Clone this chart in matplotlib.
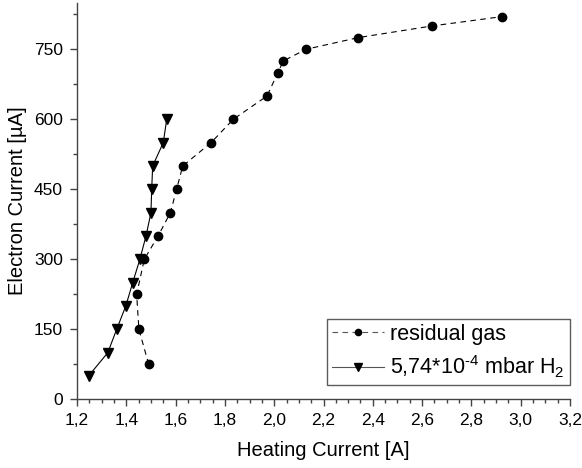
import numpy as np
import matplotlib
matplotlib.use('Agg')
import matplotlib.pyplot as plt
from matplotlib.ticker import MultipleLocator, FixedLocator

plt.rcParams['font.family'] = ['Liberation Sans', 'DejaVu Sans']
plt.rcParams['mathtext.default'] = 'regular'

# residual gas run
res_i = [1.491, 1.451, 1.442, 1.473, 1.529, 1.579, 1.604, 1.629, 1.744,
         1.834, 1.971, 2.015, 2.037, 2.129, 2.341, 2.640, 2.924]
res_e = [75, 150, 225, 300, 350, 400, 450, 500, 550,
         600, 650, 700, 725, 750, 775, 800, 820]

# hydrogen run at 5.74e-4 mbar
h2_i = [1.247, 1.325, 1.361, 1.398, 1.426, 1.455, 1.480,
        1.500, 1.503, 1.507, 1.550, 1.564]
h2_e = [50, 100, 150, 200, 250, 300, 350,
        400, 450, 500, 550, 600]

xticks = [1.2, 1.4, 1.6, 1.8, 2.0, 2.2, 2.4, 2.6, 2.8, 3.0, 3.2]
xticklabels = ['1,2', '1,4', '1,6', '1,8', '2,0', '2,2', '2,4', '2,6', '2,8', '3,0', '3,2']
yticks = [0, 150, 300, 450, 600, 750]

fig = plt.figure(figsize=(5.82, 4.68), dpi=100)
ax = fig.add_axes([0.1323, 0.1468, 0.9794 - 0.1323, 0.9944 - 0.1468])

ax.plot(res_i, res_e, color='black', lw=0.8, dashes=(5, 4),
        marker='o', ms=6, mfc='black', mec='black', label='residual gas')
ax.plot(h2_i, h2_e, color='black', lw=0.8, ls='-',
        marker='v', ms=7.5, mfc='black', mec='black',
        label='5,74*10$^{\u2010 4}$ mbar H$_2$')

ax.set_xlim(1.2, 3.2)
ax.set_ylim(0, 850)
ax.xaxis.set_major_locator(FixedLocator(xticks))
ax.set_xticklabels(xticklabels)
ax.xaxis.set_minor_locator(MultipleLocator(0.05))
ax.yaxis.set_major_locator(FixedLocator(yticks))
ax.yaxis.set_minor_locator(MultipleLocator(75))

for s in ['top', 'right']:
    ax.spines[s].set_visible(False)
for s in ['left', 'bottom']:
    ax.spines[s].set_color('#444444')
    ax.spines[s].set_linewidth(1.0)
ax.tick_params(which='major', direction='out', length=5, width=1.0,
               color='#444444', labelsize=12.5, pad=5)
ax.tick_params(which='minor', direction='out', length=3, width=1.0, color='#444444')

ax.set_xlabel('Heating Current [A]', fontsize=14.5, labelpad=9)
ax.set_ylabel('Electron Current [\u00b5A]', fontsize=14.5, labelpad=5)

leg = ax.legend(loc='lower right', bbox_to_anchor=(1.0, 0.035), fontsize=15.5,
                frameon=True, fancybox=False, borderpad=0.25, handlelength=2.4,
                labelspacing=0.4, handletextpad=0.3, borderaxespad=0.0)
leg.get_frame().set_edgecolor('#333333')
leg.get_frame().set_linewidth(1.0)
for h in leg.get_lines():
    h.set_color('#555555')
    h.set_markerfacecolor('black')
    h.set_markeredgecolor('black')
leg.get_lines()[0].set_markersize(4.5)
leg.get_lines()[1].set_markersize(5.5)

plt.savefig('out.png', dpi=100)
